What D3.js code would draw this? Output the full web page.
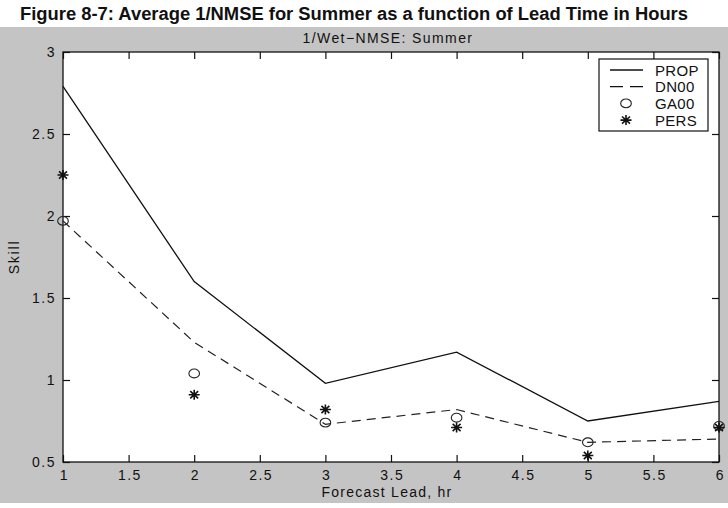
<!DOCTYPE html>
<html><head><meta charset="utf-8">
<script src="https://cdn.jsdelivr.net/npm/d3@7"></script>
<style>
body{margin:0;background:#fff;}
svg{display:block;font-family:"Liberation Sans",Arial,Helvetica,sans-serif;}
</style></head>
<body>
<svg id="chart" width="728" height="508"></svg>
<script>
const leads = [1, 2, 3, 4, 5, 6];
const prop = [2.79, 1.60, 0.98, 1.17, 0.75, 0.87];
const dn00 = [1.97, 1.23, 0.73, 0.82, 0.62, 0.64];
const ga00 = [1.97, 1.04, 0.74, 0.77, 0.62, 0.72];
const pers = [2.25, 0.91, 0.82, 0.71, 0.54, 0.71];
const xTicks = [1, 1.5, 2, 2.5, 3, 3.5, 4, 4.5, 5, 5.5, 6];
const yTicks = [0.5, 1, 1.5, 2, 2.5, 3];
const legendNames = ["PROP", "DN00", "GA00", "PERS"];

const svg = d3.select("#chart");
const W = 728, H = 508;
const m = {l: 63, r: 9, t: 52, b: 46};
const pw = W - m.l - m.r, ph = H - m.t - m.b;

// backgrounds
svg.append("rect").attr("width", W).attr("height", H).attr("fill", "#fff");
svg.append("rect").attr("x", 0).attr("y", 27).attr("width", W).attr("height", 476).attr("fill", "#c4c4c4");

svg.append("text").attr("x", 20).attr("y", 20).attr("font-size", 17.5).attr("font-weight", "bold")
  .attr("fill", "#111").attr("textLength", 668).attr("lengthAdjust", "spacingAndGlyphs")
  .text("Figure 8-7: Average 1/NMSE for Summer as a function of Lead Time in Hours");

const x = d3.scaleLinear().domain([1, 6]).range([m.l, m.l + pw]);
const y = d3.scaleLinear().domain([0.5, 3]).range([m.t + ph, m.t]);

svg.append("rect").attr("x", m.l).attr("y", m.t).attr("width", pw).attr("height", ph)
  .attr("fill", "#fff").attr("stroke", "#111").attr("stroke-width", 1.3);

const tl = 7;
function styleAxis(g) {
  g.select(".domain").remove();
  g.selectAll("line").attr("stroke", "#111").attr("stroke-width", 1.2);
  g.selectAll("text").attr("fill", "#111").attr("font-size", 14).attr("letter-spacing", 1.5);
}
// bottom
svg.append("g").attr("transform", `translate(0,${m.t + ph})`)
  .call(d3.axisBottom(x).tickValues(xTicks).tickSize(-tl).tickPadding(8).tickFormat(d3.format("")))
  .call(styleAxis)
  .selectAll("text").attr("dx", "0.8");
// top
svg.append("g").attr("transform", `translate(0,${m.t})`)
  .call(d3.axisTop(x).tickValues(xTicks).tickSize(-tl).tickFormat(""))
  .call(styleAxis);
// left
svg.append("g").attr("transform", `translate(${m.l},0)`)
  .call(d3.axisLeft(y).tickValues(yTicks).tickSize(-tl).tickPadding(7).tickFormat(d3.format("")))
  .call(styleAxis);
// right
svg.append("g").attr("transform", `translate(${m.l + pw},0)`)
  .call(d3.axisRight(y).tickValues(yTicks).tickSize(-tl).tickFormat(""))
  .call(styleAxis);

// titles
svg.append("text").attr("x", 388).attr("y", 43).attr("text-anchor", "middle").attr("font-size", 14)
  .attr("letter-spacing", 1.4).attr("fill", "#111").text("1/Wet\u2212NMSE: Summer");
svg.append("text").attr("x", 387).attr("y", 497).attr("text-anchor", "middle").attr("font-size", 14)
  .attr("letter-spacing", 1.25).attr("fill", "#111").text("Forecast Lead, hr");
svg.append("text").attr("transform", `translate(19,${m.t + ph / 2}) rotate(-90)`).attr("text-anchor", "middle")
  .attr("font-size", 14).attr("letter-spacing", 1.8).attr("fill", "#111").text("Skill");

const line = d3.line().x((d, i) => x(leads[i])).y(d => y(d));
svg.append("path").datum(prop).attr("d", line).attr("fill", "none").attr("stroke", "#111").attr("stroke-width", 1.3);
svg.append("path").datum(dn00).attr("d", line).attr("fill", "none").attr("stroke", "#222").attr("stroke-width", 1.2)
  .attr("stroke-dasharray", "9,6");

function circle(g, cx, cy) {
  g.append("ellipse").attr("cx", cx).attr("cy", cy).attr("rx", 5.3).attr("ry", 4.4).attr("fill", "none").attr("stroke", "#222").attr("stroke-width", 1.1);
}
function star(g, cx, cy) {
  const sx = 5.5, sy = 5, dx = sx * 0.72, dy = sy * 0.72;
  const p = `M${cx - sx},${cy}L${cx + sx},${cy}M${cx},${cy - sy}L${cx},${cy + sy}M${cx - dx},${cy - dy}L${cx + dx},${cy + dy}M${cx - dx},${cy + dy}L${cx + dx},${cy - dy}`;
  g.append("path").attr("d", p).attr("stroke", "#111").attr("stroke-width", 1.6).attr("fill", "none");
}
ga00.forEach((v, i) => circle(svg, x(leads[i]), y(v)));
pers.forEach((v, i) => star(svg, x(leads[i]), y(v)));

// legend
const lg = svg.append("g");
lg.append("rect").attr("x", 599).attr("y", 59).attr("width", 109).attr("height", 72)
  .attr("fill", "#fff").attr("stroke", "#111").attr("stroke-width", 1.2);
legendNames.forEach((n, i) => {
  const ly = 70 + i * 16.7;
  if (i === 0) lg.append("line").attr("x1", 610).attr("x2", 643).attr("y1", ly).attr("y2", ly).attr("stroke", "#111").attr("stroke-width", 1.3);
  if (i === 1) lg.append("line").attr("x1", 610).attr("x2", 643).attr("y1", ly).attr("y2", ly).attr("stroke", "#111").attr("stroke-width", 1.3).attr("stroke-dasharray", "13,7");
  if (i === 2) circle(lg, 626, ly);
  if (i === 3) star(lg, 626, ly);
  lg.append("text").attr("x", 655).attr("y", ly + 5.5).attr("font-size", 15).attr("letter-spacing", 0.3)
    .attr("fill", "#111").text(n);
});
</script>
</body></html>
